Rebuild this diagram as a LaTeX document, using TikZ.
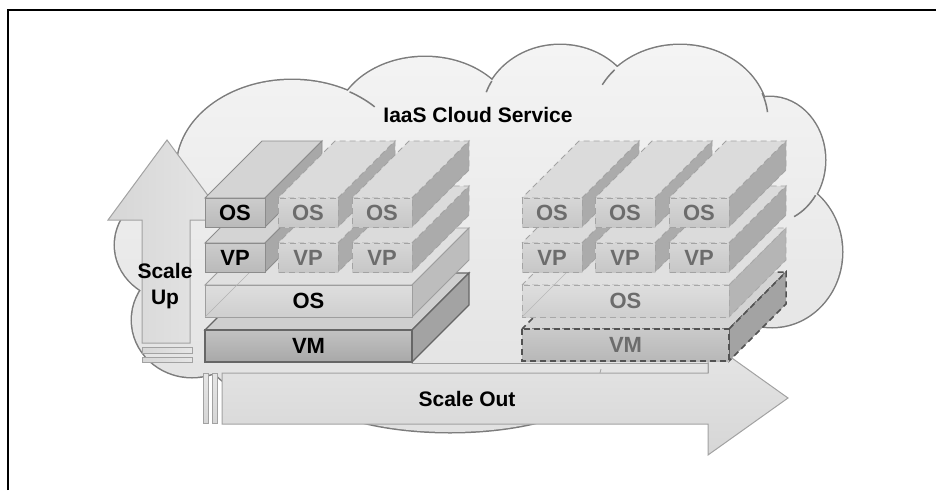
\documentclass[tikz,border=0pt]{standalone}
\usepackage{fontspec}
\setmainfont{Liberation Sans}
\usetikzlibrary{calc}
\definecolor{cloudtop}{HTML}{F4F4F4}
\definecolor{cloudbot}{HTML}{E1E1E1}
\definecolor{cloudline}{HTML}{7C7C7C}
\definecolor{arrA}{HTML}{D6D6D6}
\definecolor{arrB}{HTML}{E6E6E6}
\definecolor{arrline}{HTML}{A2A2A2}
\definecolor{dimtext}{HTML}{6C6C6C}
\newcommand\layerbox[7]{%
  \path[#6 top] (#2,#3) -- ({#2+#4},#3) -- ({#2+#4+57},{#3-57}) -- ({#2+57},{#3-57}) -- cycle;
  \path[#6 side] ({#2+#4},#3) -- ({#2+#4+57},{#3-57}) -- ({#2+#4+57},{#3+#5-57}) -- ({#2+#4},{#3+#5}) -- cycle;
  \path[#6 front] (#2,#3) rectangle ({#2+#4},{#3+#5});
  \node[#6 text] (#1) at ({#2+#4/2},{#3+#5/2}) {#7};
}
% inner arc of a cloud lobe: centre x, centre y, rx, ry, start, end
\newcommand\lobearc[6]{%
  \draw[cloudline, line width=1.5pt] (#1,#2) ++(#5:#3pt and #4pt) arc[start angle=#5, end angle=#6, x radius=#3pt, y radius=#4pt];
}
\newcommand\cloudshape{%
  (292,168) ellipse [x radius=115pt, y radius=88pt]
  (425,127) ellipse [x radius=90pt, y radius=70pt]
  (560,115) ellipse [x radius=78pt, y radius=70pt]
  (680,120) ellipse [x radius=88pt, y radius=75pt]
  (770,160) ellipse [x radius=55pt, y radius=63pt]
  (772,252) ellipse [x radius=70pt, y radius=75pt]
  (640,365) ellipse [x radius=90pt, y radius=55pt]
  (450,380) ellipse [x radius=150pt, y radius=52pt]
  (300,360) ellipse [x radius=90pt, y radius=40pt]
  (192,320) ellipse [x radius=60pt, y radius=57pt]
  (175,245) ellipse [x radius=60pt, y radius=55pt]
  (480,245) ellipse [x radius=290pt, y radius=140pt]}
\begin{document}
\begin{tikzpicture}[x={(1pt,0)}, y={(0,-1pt)},
  lbl/.style={font=\fontsize{22}{26}\selectfont\bfseries, inner sep=0pt},
  dashline/.style={dash pattern=on 6pt off 4pt},
  sol top/.style={fill=black!17, draw=black!45, line width=0.9pt},
  sol side/.style={fill=black!34, draw=black!45, line width=0.9pt},
  sol front/.style={top color=black!20, bottom color=black!27, draw=black!45, line width=0.9pt},
  sol text/.style={lbl, text=black},
  dsh top/.style={fill=black!14, draw=black!36, dashline, line width=0.9pt},
  dsh side/.style={fill=black!33, draw=black!36, dashline, line width=0.9pt},
  dsh front/.style={top color=black!16, bottom color=black!22, draw=black!36, dashline, line width=0.9pt},
  dsh text/.style={lbl, text=dimtext},
  bos top/.style={fill=black!12, draw=black!38, line width=0.9pt},
  bos side/.style={fill=black!26, draw=black!38, line width=0.9pt},
  bos front/.style={top color=black!13, bottom color=black!19, draw=black!38, line width=0.9pt},
  bos text/.style={lbl, text=black},
  vm top/.style={fill=black!19, draw=black!60, line width=1.1pt},
  vm side/.style={fill=black!36, draw=black!60, line width=1.1pt},
  vm front/.style={top color=black!24, bottom color=black!34, draw=black!60, line width=1.1pt},
  vm text/.style={lbl, text=black},
  dbos top/.style={fill=black!12, draw=black!34, dashline, line width=0.9pt},
  dbos side/.style={fill=black!29, draw=black!34, dashline, line width=0.9pt},
  dbos front/.style={top color=black!13, bottom color=black!19, draw=black!34, dashline, line width=0.9pt},
  dbos text/.style={lbl, text=dimtext},
  dvm top/.style={fill=black!17, draw=black!68, dashline, line width=1.5pt},
  dvm side/.style={fill=black!36, draw=black!68, dashline, line width=1.5pt},
  dvm front/.style={top color=black!21, bottom color=black!28, draw=black!68, dashline, line width=1.5pt},
  dvm text/.style={lbl, text=dimtext},
  arrowbody/.style={left color=arrA, right color=arrB, draw=arrline, line width=1pt},
  outbody/.style={top color=arrB, bottom color=arrA, draw=arrline, line width=1pt}]
\useasboundingbox (0,0) rectangle (936,490);
% frame
\draw[black, line width=1.4pt] (8,490) -- (8,10) -- (936,10);
% cloud
\draw[cloudline, line width=3pt] \cloudshape;
\shade[top color=cloudtop, bottom color=cloudbot] \cloudshape;
\lobearc{292}{168}{115}{88}{60}{44}
\lobearc{560}{115}{78}{70}{151}{161}
\lobearc{680}{120}{88}{75}{138}{152}
\lobearc{680}{120}{88}{75}{21}{6}
\lobearc{770}{160}{55}{63}{-34}{-64}
% scale up arrow
\shadedraw[arrowbody] (167,140) -- (226,220) -- (190,220) -- (190,343) -- (142,343) -- (142,220) -- (108,220) -- cycle;
\shadedraw[arrowbody] (142,347) rectangle (192,353);
\shadedraw[arrowbody] (142,357) rectangle (192,362);
% scale out arrow
\shadedraw[outbody] (203,373) rectangle (208,423);
\shadedraw[outbody] (212,373) rectangle (217,423);
\shadedraw[outbody] (222,373) -- (708,373) -- (708,341) -- (788,398) -- (708,455) -- (708,424) -- (222,424) -- cycle;
\draw[arrline, line width=0.8pt] (412,363) -- (708,363) -- (708,373);
\draw[arrline, line width=0.8pt] (600,373) -- (601,369);
% left stack
\layerbox{lvm}{205}{330}{207}{32}{vm}{VM}
\layerbox{los}{205}{285}{207}{32}{bos}{OS}
\draw[black!30, line width=0.6pt] (205,317) -- (262,260);
\layerbox{lvpa}{205}{243}{60}{29}{sol}{VP}
\layerbox{lvpb}{278}{243}{60}{29}{dsh}{VP}
\layerbox{lvpc}{352}{243}{60}{29}{dsh}{VP}
\layerbox{losa}{205}{198}{60}{29}{sol}{OS}
\layerbox{losb}{278}{198}{60}{29}{dsh}{OS}
\layerbox{losc}{352}{198}{60}{29}{dsh}{OS}
% right stack
\layerbox{rvm}{522}{329}{207}{32}{dvm}{VM}
\layerbox{ros}{522}{285}{207}{32}{dbos}{OS}
\draw[black!28, line width=0.6pt] (522,317) -- (579,260);
\layerbox{rvpa}{522}{243}{60}{29}{dsh}{VP}
\layerbox{rvpb}{595}{243}{60}{29}{dsh}{VP}
\layerbox{rvpc}{669}{243}{60}{29}{dsh}{VP}
\layerbox{rosa}{522}{198}{60}{29}{dsh}{OS}
\layerbox{rosb}{595}{198}{60}{29}{dsh}{OS}
\layerbox{rosc}{669}{198}{60}{29}{dsh}{OS}
% texts
\node[lbl, font=\fontsize{21}{25}\selectfont\bfseries] (title) at (478,115) {IaaS Cloud Service};
\node[lbl, align=center, font=\fontsize{21}{26}\selectfont\bfseries] (up) at (165,286) {Scale\\Up};
\node[lbl, font=\fontsize{21}{25}\selectfont\bfseries] (out) at (467,399) {Scale Out};
\end{tikzpicture}
\end{document}
